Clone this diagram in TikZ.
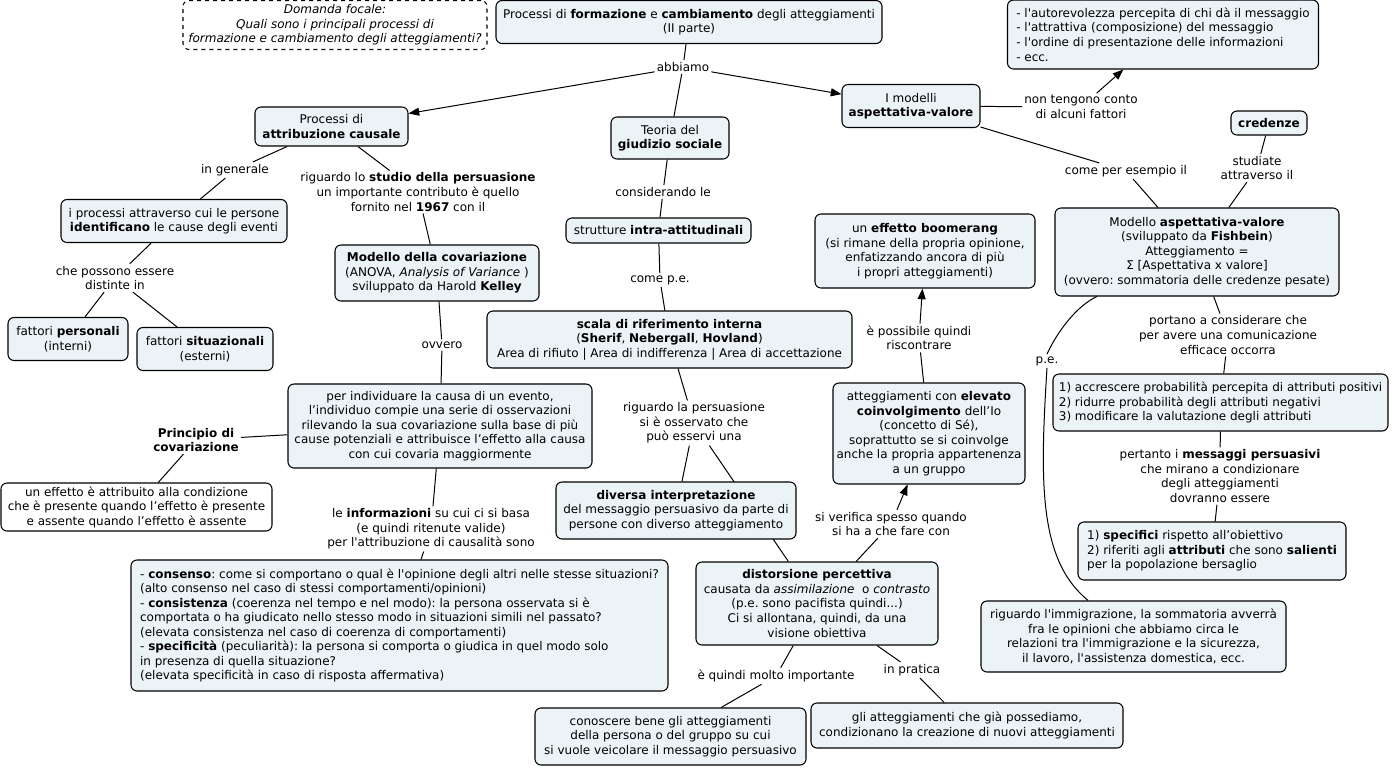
\documentclass[tikz,border=0pt]{standalone}
\usepackage{fontspec}
\newfontfamily\cmapFont{DejaVu Sans}
\usepackage{xcolor}
\definecolor{cmapFill}{RGB}{236, 243, 246}
\usepackage{tikz}
\usetikzlibrary{arrows.meta, backgrounds}
\frenchspacing

\begin{document}
\begin{tikzpicture}[x=0.75pt, y=-0.75pt,
    every node/.style={font=\cmapFont\fontsize{9}{10.9}\selectfont},
    concept/.style={draw, line width=0.8pt, rounded corners=4.5pt, fill=cmapFill, align=center, inner sep=2pt},
    conceptL/.style={concept, align=left},
    boxsize/.style 2 args={minimum width=#1*0.75pt, minimum height=#2*0.75pt},
    linkText/.style={align=center, inner sep=1.5pt},
    conn/.style={line width=0.75pt},
    arr/.style={conn, -{Triangle[length=8pt, width=6pt]}}]
    \useasboundingbox (0,0) rectangle (1395,768);
    \node[concept, dashed, fill=white, boxsize={304}{49}, font=\cmapFont\fontsize{9}{10.9}\selectfont\itshape] (focal) at (335,25) {Domanda focale:\\Quali sono i principali processi di\\formazione e cambiamento degli atteggiamenti?};
    \node[concept, boxsize={386}{43}] (main) at (689,22) {Processi di \textbf{formazione} e \textbf{cambiamento} degli atteggiamenti\\(II parte)};
    \node[linkText] (abbiamo) at (683,67) {abbiamo};
    \node[concept, boxsize={153}{39}] (attr) at (331.5,126.5) {Processi di\\\textbf{attribuzione causale}};
    \node[concept, boxsize={118}{42}] (teoria) at (670,138) {Teoria del\\\textbf{giudizio sociale}};
    \node[concept, boxsize={138}{43}] (aspett) at (911,106) {I modelli\\\textbf{aspettativa-valore}};
    \node[conceptL, boxsize={311}{69}] (fattori) at (1163,34.5) {- l'autorevolezza percepita di chi dà il messaggio\\- l'attrattiva (composizione) del messaggio\\- l'ordine di presentazione delle informazioni\\- ecc.};
    \node[linkText] (nontengono) at (1081,107) {non tengono conto\\di alcuni fattori};
    \node[concept, boxsize={76}{24}] (credenze) at (1269,123) {\textbf{credenze}};
    \node[linkText] (comeper) at (1126,171) {come per esempio il};
    \node[linkText] (studiate) at (1257,168) {studiate\\attraverso il};
    \node[concept, boxsize={284}{88}] (fishbein) at (1197,252) {Modello \textbf{aspettativa-valore}\\(sviluppato da \textbf{Fishbein})\\Atteggiamento =\\Σ [Aspettativa x valore]\\(ovvero: sommatoria delle credenze pesate)};
    \node[linkText] (ingenerale) at (235,170) {in generale};
    \node[linkText] (studio) at (418,192) {riguardo lo \textbf{studio della persuasione}\\un importante contributo è quello\\fornito nel \textbf{1967} con il};
    \node[concept, boxsize={226}{43}] (processi) at (174,221) {i processi attraverso cui le persone\\\textbf{identificano} le cause degli eventi};
    \node[linkText] (distinte) at (115,278) {che possono essere\\distinte in};
    \node[concept, boxsize={120}{43}] (personali) at (68,339) {fattori \textbf{personali}\\(interni)};
    \node[concept, boxsize={136}{43}] (situaz) at (205,349) {fattori \textbf{situazionali}\\(esterni)};
    \node[concept, boxsize={204}{56}] (modcov) at (437,273) {\textbf{Modello della covariazione}\\(ANOVA, \textit{Analysis of Variance} )\\sviluppato da Harold \textbf{Kelley}};
    \node[linkText] (consid) at (663,192) {considerando le};
    \node[concept, boxsize={185}{25}] (strutture) at (658.5,230.5) {strutture \textbf{intra-attitudinali}};
    \node[linkText] (comepe) at (660,280) {come p.e.};
    \node[concept, boxsize={365}{57}] (scala) at (669.5,339.5) {\textbf{scala di riferimento interna}\\(\textbf{Sherif}, \textbf{Nebergall}, \textbf{Hovland})\\Area di rifiuto | Area di indifferenza | Area di accettazione};
    \node[linkText] (ovvero) at (442,345) {ovvero};
    \node[concept, boxsize={304}{84}] (individ) at (440,426) {per individuare la causa di un evento,\\l’individuo compie una serie di osservazioni\\rilevando la sua covariazione sulla base di più\\cause potenziali e attribuisce l’effetto alla causa\\con cui covaria maggiormente};
    \node[linkText] (principio) at (196,440) {\textbf{Principio di}\\\textbf{covariazione}};
    \node[concept, fill=white, boxsize={271}{48}] (effetto) at (136.5,507) {un effetto è attribuito alla condizione\\che è presente quando l’effetto è presente\\e assente quando l’effetto è assente};
    \node[linkText] (informaz) at (431,529) {le \textbf{informazioni} su cui ci si basa\\(e quindi ritenute valide)\\per l'attribuzione di causalità sono};
    \node[conceptL, boxsize={537}{131}] (consenso) at (399.5,625.5) {- \textbf{consenso}: come si comportano o qual è l'opinione degli altri nelle stesse situazioni?\\(alto consenso nel caso di stessi comportamenti/opinioni)\\- \textbf{consistenza} (coerenza nel tempo e nel modo): la persona osservata si è\\comportata o ha giudicato nello stesso modo in situazioni simili nel passato?\\(elevata consistenza nel caso di coerenza di comportamenti)\\- \textbf{specificità} (peculiarità): la persona si comporta o giudica in quel modo solo\\in presenza di quella situazione?\\(elevata specificità in caso di risposta affermativa)};
    \node[linkText] (rigpers) at (694,423) {riguardo la persuasione\\si è osservato che\\può esservi una};
    \node[concept, boxsize={240}{57}] (diversa) at (676,510.5) {\textbf{diversa interpretazione}\\del messaggio persuasivo da parte di\\persone con diverso atteggiamento};
    \node[concept, boxsize={242}{83}] (distors) at (817,603.5) {\textbf{distorsione percettiva}\\causata da \textit{assimilazione}\ \ o \textit{contrasto}\\(p.e. sono pacifista quindi...)\\Ci si allontana, quindi, da una\\visione obiettiva};
    \node[linkText] (importante) at (776,676) {è quindi molto importante};
    \node[linkText] (pratica) at (912,670) {in pratica};
    \node[concept, boxsize={271}{57}] (conoscere) at (670.5,736.5) {conoscere bene gli atteggiamenti\\della persona o del gruppo su cui\\si vuole veicolare il messaggio persuasivo};
    \node[concept, boxsize={312}{45}] (giaposs) at (967,725.5) {gli atteggiamenti che già possediamo,\\condizionano la creazione di nuovi atteggiamenti};
    \node[linkText] (verifica) at (891,524) {si verifica spesso quando\\si ha a che fare con};
    \node[concept, boxsize={192}{101}] (elevato) at (929,433.5) {atteggiamenti con \textbf{elevato}\\\textbf{coinvolgimento} dell’Io\\(concetto di Sé),\\soprattutto se si coinvolge\\anche la propria appartenenza\\a un gruppo};
    \node[linkText] (possibile) at (919,338) {è possibile quindi\\riscontrare};
    \node[concept, boxsize={220}{74}] (boomerang) at (925,251) {un \textbf{effetto boomerang}\\(si rimane della propria opinione,\\enfatizzando ancora di più\\i propri atteggiamenti)};
    \node[linkText] (pe) at (1047,361) {p.e.};
    \node[linkText] (portano) at (1228,335) {portano a considerare che\\per avere una comunicazione\\efficace occorra};
    \node[conceptL, boxsize={335}{57}] (accresc) at (1220.5,402.5) {1) accrescere probabilità percepita di attributi positivi\\2) ridurre probabilità degli attributi negativi\\3) modificare la valutazione degli attributi};
    \node[linkText] (pertanto) at (1220,476) {pertanto i \textbf{messaggi persuasivi}\\che mirano a condizionare\\degli atteggiamenti\\dovranno essere};
    \node[conceptL, boxsize={268}{58}] (specifici) at (1212,551) {1) \textbf{specifici} rispetto all’obiettivo\\2) riferiti agli \textbf{attributi} che sono \textbf{salienti}\\per la popolazione bersaglio};
    \node[concept, boxsize={305}{71}] (immigr) at (1133.5,636.5) {riguardo l'immigrazione, la sommatoria avverrà\\fra le opinioni che abbiamo circa le\\relazioni tra l'immigrazione e la sicurezza,\\il lavoro, l'assistenza domestica, ecc.};
    \begin{scope}[on background layer]
        \fill[white] (0,0) rectangle (1395,768);
        \draw[conn] (main) -- (abbiamo);
        \draw[arr] (abbiamo) -- (attr);
        \draw[conn] (abbiamo) -- (teoria);
        \draw[arr] (abbiamo) -- (aspett);
        \draw[conn] (aspett) -- (nontengono);
        \draw[arr] (nontengono) -- (fattori);
        \draw[conn] (aspett) -- (comeper);
        \draw[conn] (comeper) -- (fishbein);
        \draw[conn] (credenze) -- (studiate);
        \draw[conn] (studiate) -- (fishbein);
        \draw[conn] (attr) -- (ingenerale);
        \draw[conn] (ingenerale) -- (processi);
        \draw[conn] (attr) -- (studio);
        \draw[conn] (studio) -- (modcov);
        \draw[conn] (processi) -- (distinte);
        \draw[conn] (distinte) -- (personali);
        \draw[conn] (distinte) -- (situaz);
        \draw[conn] (teoria) -- (consid);
        \draw[conn] (consid) -- (strutture);
        \draw[conn] (strutture) -- (comepe);
        \draw[conn] (comepe) -- (scala);
        \draw[conn] (modcov) -- (ovvero);
        \draw[conn] (ovvero) -- (individ);
        \draw[conn] (individ) -- (principio);
        \draw[conn] (principio) -- (effetto);
        \draw[conn] (individ) -- (informaz);
        \draw[conn] (informaz) -- (consenso);
        \draw[conn] (scala) -- (rigpers);
        \draw[conn] (rigpers) -- (diversa);
        \draw[conn] (rigpers) -- (distors);
        \draw[conn] (distors) -- (verifica);
        \draw[arr] (verifica) -- (elevato);
        \draw[conn] (elevato) -- (possibile);
        \draw[arr] (possibile) -- (boomerang);
        \draw[conn] (distors) -- (importante);
        \draw[conn] (importante) -- (conoscere);
        \draw[conn] (distors) -- (pratica);
        \draw[conn] (pratica) -- (giaposs);
        \draw[conn] ([xshift=-75pt]fishbein.south) .. controls (1078,305) and (1058,330) .. (pe.north);
        \draw[conn] (pe.south) .. controls (1040,480) and (1038,560) .. ([xshift=-34pt]immigr.north);
        \draw[conn] (fishbein) -- (portano);
        \draw[conn] (portano) -- (accresc);
        \draw[conn] (accresc) -- (pertanto);
        \draw[conn] (pertanto) -- (specifici);
    \end{scope}
\end{tikzpicture}
\end{document}
